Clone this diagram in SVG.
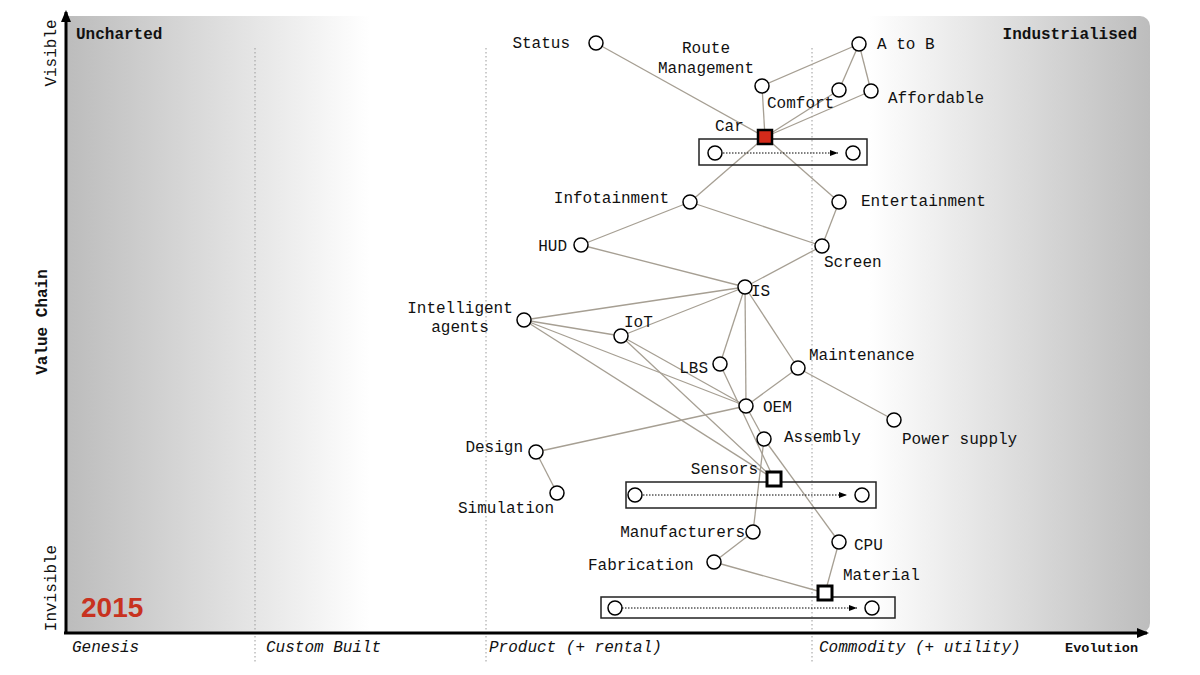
<svg xmlns="http://www.w3.org/2000/svg" width="1200" height="675" viewBox="0 0 1200 675">
<defs>
<linearGradient id="bg" x1="66" y1="0" x2="1150" y2="0" gradientUnits="userSpaceOnUse">
<stop offset="0" stop-color="#bcbcbc"/>
<stop offset="0.28" stop-color="#ffffff"/>
<stop offset="0.74" stop-color="#ffffff"/>
<stop offset="1" stop-color="#bdbdbd"/>
</linearGradient>
<marker id="axarrow" viewBox="0 0 12 10" refX="10" refY="5" markerWidth="12" markerHeight="10" markerUnits="userSpaceOnUse" orient="auto">
<path d="M0,0 L12,5 L0,10 Z" fill="#000"/>
</marker>
<marker id="evarrow" viewBox="0 0 8 6" refX="8" refY="3" markerWidth="8" markerHeight="6" markerUnits="userSpaceOnUse" orient="auto">
<path d="M0,0 L8,3 L0,6 Z" fill="#000"/>
</marker>
</defs>
<style>
text{font-family:"Liberation Mono","Courier New",monospace;font-size:16px;fill:#111}
.b{font-weight:bold}
.i{font-style:italic}
.e{text-anchor:end}
.m{text-anchor:middle}
.c{fill:#fff;stroke:#000;stroke-width:1.5}
.edge{stroke:#a69f93;stroke-width:1.3;fill:none}
.phase{stroke:#9a9a9a;stroke-width:1;stroke-dasharray:1.5,2.5}
.evbox{fill:none;stroke:#222;stroke-width:1.5}
.evline{stroke:#000;stroke-width:1;stroke-dasharray:1.5,1.5}
</style>
<path d="M66,16 H1140 A10,10 0 0 1 1150,26 V623 A10,10 0 0 1 1140,633 H66 Z" fill="url(#bg)"/>
<g id="phases">
<line class="phase" x1="255" y1="48" x2="255" y2="662"/>
<line class="phase" x1="486" y1="48" x2="486" y2="662"/>
<line class="phase" x1="812" y1="48" x2="812" y2="662"/>
</g>
<g id="axes">
<line x1="66" y1="634" x2="66" y2="12" stroke="#000" stroke-width="3" marker-end="url(#axarrow)"/>
<line x1="64" y1="633" x2="1147" y2="633" stroke="#000" stroke-width="3" marker-end="url(#axarrow)"/>
<text class="b" x="76" y="39">Uncharted</text>
<text class="b e" x="1137" y="39">Industrialised</text>
<text class="m" transform="translate(56,53) rotate(-90)">Visible</text>
<text class="m" transform="translate(56,588) rotate(-90)">Invisible</text>
<text class="b m" transform="translate(47,322) rotate(-90)">Value Chain</text>
<text class="i" x="72" y="652">Genesis</text>
<text class="i" x="266" y="652">Custom Built</text>
<text class="i" x="489" y="652">Product (+ rental)</text>
<text class="i" x="819" y="652">Commodity (+ utility)</text>
<text class="b e" x="1138" y="652" style="font-size:13.5px">Evolution</text>
<text x="81" y="617" style="font-family:'Liberation Sans',Arial,sans-serif;font-weight:bold;font-size:28px;fill:#c8321f">2015</text>
</g>
<g id="connectors">
<line class="edge" x1="596" y1="43" x2="765" y2="137"/>
<line class="edge" x1="762" y1="86" x2="765" y2="137"/>
<line class="edge" x1="762" y1="86" x2="859" y2="44"/>
<line class="edge" x1="859" y1="44" x2="839" y2="90"/>
<line class="edge" x1="859" y1="44" x2="871" y2="91"/>
<line class="edge" x1="765" y1="137" x2="839" y2="90"/>
<line class="edge" x1="765" y1="137" x2="871" y2="91"/>
<line class="edge" x1="765" y1="137" x2="690" y2="202"/>
<line class="edge" x1="765" y1="137" x2="839" y2="202"/>
<line class="edge" x1="690" y1="202" x2="581" y2="245"/>
<line class="edge" x1="690" y1="202" x2="822" y2="246"/>
<line class="edge" x1="839" y1="202" x2="822" y2="246"/>
<line class="edge" x1="581" y1="245" x2="745" y2="287"/>
<line class="edge" x1="822" y1="246" x2="745" y2="287"/>
<line class="edge" x1="745" y1="287" x2="524" y2="320"/>
<line class="edge" x1="745" y1="287" x2="621" y2="336"/>
<line class="edge" x1="745" y1="287" x2="720" y2="364"/>
<line class="edge" x1="745" y1="287" x2="746" y2="406"/>
<line class="edge" x1="745" y1="287" x2="798" y2="368"/>
<line class="edge" x1="524" y1="320" x2="621" y2="336"/>
<line class="edge" x1="524" y1="320" x2="746" y2="406"/>
<line class="edge" x1="524" y1="320" x2="774" y2="479"/>
<line class="edge" x1="621" y1="336" x2="746" y2="406"/>
<line class="edge" x1="621" y1="336" x2="774" y2="479"/>
<line class="edge" x1="720" y1="364" x2="774" y2="479"/>
<line class="edge" x1="746" y1="406" x2="798" y2="368"/>
<line class="edge" x1="746" y1="406" x2="536" y2="452"/>
<line class="edge" x1="746" y1="406" x2="764" y2="439"/>
<line class="edge" x1="764" y1="439" x2="839" y2="542"/>
<line class="edge" x1="798" y1="368" x2="894" y2="420"/>
<line class="edge" x1="536" y1="452" x2="557" y2="493"/>
<line class="edge" x1="764" y1="439" x2="753" y2="532"/>
<line class="edge" x1="753" y1="532" x2="714" y2="562"/>
<line class="edge" x1="714" y1="562" x2="825" y2="593"/>
<line class="edge" x1="839" y1="542" x2="825" y2="593"/>
</g>
<g id="evolve-car">
<rect class="evbox" x="699" y="139" width="168" height="26"/>
<circle class="c" cx="715" cy="153" r="7"/>
<circle class="c" cx="853" cy="153" r="7"/>
<line class="evline" x1="723" y1="153" x2="838" y2="153" marker-end="url(#evarrow)"/>
</g>
<g id="evolve-sensors">
<rect class="evbox" x="626" y="482" width="250" height="26"/>
<circle class="c" cx="635" cy="495" r="7"/>
<circle class="c" cx="862" cy="495" r="7"/>
<line class="evline" x1="643" y1="495" x2="847" y2="495" marker-end="url(#evarrow)"/>
</g>
<g id="evolve-material">
<rect class="evbox" x="601" y="597" width="294" height="21"/>
<circle class="c" cx="615" cy="608" r="7"/>
<circle class="c" cx="872" cy="608" r="7"/>
<line class="evline" x1="622" y1="608" x2="857" y2="608" marker-end="url(#evarrow)"/>
</g>
<g id="status"><circle class="c" cx="596" cy="43" r="7"/><text class="e" x="570" y="48">Status</text></g>
<g id="route-management"><circle class="c" cx="762" cy="86" r="7"/><text class="m" x="706" y="53">Route</text><text class="m" x="706" y="73">Management</text></g>
<g id="a-to-b"><circle class="c" cx="859" cy="44" r="7"/><text x="877" y="49">A to B</text></g>
<g id="comfort"><circle class="c" cx="839" cy="90" r="7"/><text x="767" y="108">Comfort</text></g>
<g id="affordable"><circle class="c" cx="871" cy="91" r="7"/><text x="888" y="103">Affordable</text></g>
<g id="car"><rect x="758" y="130" width="14" height="14" fill="#d42a1a" stroke="#000" stroke-width="2.5"/><text x="715" y="131">Car</text></g>
<g id="infotainment"><circle class="c" cx="690" cy="202" r="7"/><text class="e" x="669" y="203">Infotainment</text></g>
<g id="entertainment"><circle class="c" cx="839" cy="202" r="7"/><text x="861" y="206">Entertainment</text></g>
<g id="hud"><circle class="c" cx="581" cy="245" r="7"/><text class="e" x="567" y="251">HUD</text></g>
<g id="screen"><circle class="c" cx="822" cy="246" r="7"/><text x="824" y="267">Screen</text></g>
<g id="is"><circle class="c" cx="745" cy="287" r="7"/><text x="751" y="296">IS</text></g>
<g id="intelligent-agents"><circle class="c" cx="524" cy="320" r="7"/><text class="m" x="460" y="313">Intelligent</text><text class="m" x="460" y="332">agents</text></g>
<g id="iot"><circle class="c" cx="621" cy="336" r="7"/><text x="624" y="327">IoT</text></g>
<g id="lbs"><circle class="c" cx="720" cy="364" r="7"/><text class="e" x="708" y="373">LBS</text></g>
<g id="maintenance"><circle class="c" cx="798" cy="368" r="7"/><text x="809" y="360">Maintenance</text></g>
<g id="oem"><circle class="c" cx="746" cy="406" r="7"/><text x="763" y="412">OEM</text></g>
<g id="power-supply"><circle class="c" cx="894" cy="420" r="7"/><text x="902" y="444">Power supply</text></g>
<g id="assembly"><circle class="c" cx="764" cy="439" r="7"/><text x="784" y="442">Assembly</text></g>
<g id="design"><circle class="c" cx="536" cy="452" r="7"/><text class="e" x="523" y="452">Design</text></g>
<g id="simulation"><circle class="c" cx="557" cy="493" r="7"/><text x="458" y="513">Simulation</text></g>
<g id="sensors"><rect x="767" y="472" width="14" height="14" fill="#fff" stroke="#000" stroke-width="3"/><text class="e" x="758" y="474">Sensors</text></g>
<g id="manufacturers"><circle class="c" cx="753" cy="532" r="7"/><text class="e" x="745" y="537">Manufacturers</text></g>
<g id="cpu"><circle class="c" cx="839" cy="542" r="7"/><text x="854" y="550">CPU</text></g>
<g id="fabrication"><circle class="c" cx="714" cy="562" r="7"/><text x="588" y="570">Fabrication</text></g>
<g id="material"><rect x="818" y="586" width="14" height="14" fill="#fff" stroke="#000" stroke-width="3"/><text x="843" y="580">Material</text></g>
</svg>
